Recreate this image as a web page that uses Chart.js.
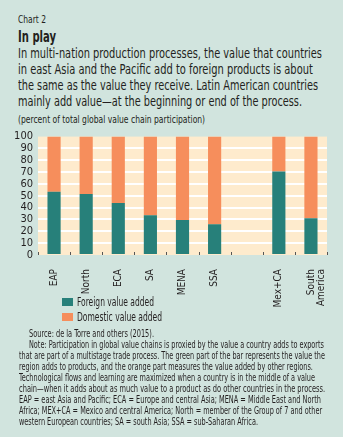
<!DOCTYPE html>
<html>
<head>
<meta charset="utf-8">
<script src="https://cdn.jsdelivr.net/npm/chart.js@4"></script>
<style>
  body { margin: 0; background: #ffffff; }
  #panel {
    position: relative; width: 343px; height: 437px; background: #d1e4de; overflow: hidden;
    font-family: "Liberation Sans Narrow", "DejaVu Sans Condensed", Roboto, sans-serif;
    color: #231f20;
  }
  .ln { position: absolute; left: 18px; white-space: nowrap; transform-origin: 0 0; }
  .k { font-size: 10.5px; }
  .t { font-size: 16px; font-weight: bold; }
  .s { font-size: 14px; }
  .u { font-size: 10.5px; }
  .leg { position: absolute; left: 62px; font-size: 11.5px; white-space: nowrap; }
  .leg span { display: inline-block; width: 11px; height: 8px; margin-right: 4px; vertical-align: 0px; }
  .leg em { font-style: normal; display: inline-block; transform-origin: 0 50%; }
  .n { font-size: 10px; left: 19px; }
  #chartBox { position: absolute; left: 0; top: 125px; width: 340px; height: 195px; }
</style>
</head>
<body>
<div id="panel">
  <div class="ln k" style="top:13px" data-w="28">Chart 2</div>
  <div class="ln t" style="top:27px" data-w="38">In play</div>
  <div class="ln s" style="top:45px" data-w="304">In multi-nation production processes, the value that countries</div>
  <div class="ln s" style="top:61px" data-w="295">in east Asia and the Pacific add to foreign products is about</div>
  <div class="ln s" style="top:77px" data-w="300">the same as the value they receive. Latin American countries</div>
  <div class="ln s" style="top:93px" data-w="284">mainly add value—at the beginning or end of the process.</div>
  <div class="ln u" style="top:113px" data-w="187">(percent of total global value chain participation)</div>
  <div id="chartBox"><canvas id="chart"></canvas></div>
  <div class="leg" style="top:295px"><span style="background:#27807a"></span><em data-w="77">Foreign value added</em></div>
  <div class="leg" style="top:310px"><span style="background:#f68e5c"></span><em data-w="85">Domestic value added</em></div>
  <div class="ln n" style="top:328px;left:29px" data-w="125">Source: de la Torre and others (2015).</div>
  <div class="ln n" style="top:339px;left:29px" data-w="295">Note: Participation in global value chains is proxied by the value a country adds to exports</div>
  <div class="ln n" style="top:350px" data-w="306">that are part of a multistage trade process. The green part of the bar represents the value the</div>
  <div class="ln n" style="top:361px" data-w="294">region adds to products, and the orange part measures the value added by other regions.</div>
  <div class="ln n" style="top:372px" data-w="296">Technological flows and learning are maximized when a country is in the middle of a value</div>
  <div class="ln n" style="top:383px" data-w="306">chain—when it adds about as much value to a product as do other countries in the process.</div>
  <div class="ln n" style="top:394px" data-w="302">EAP = east Asia and Pacific; ECA = Europe and central Asia; MENA = Middle East and North</div>
  <div class="ln n" style="top:405px" data-w="303">Africa; MEX+CA = Mexico and central America; North = member of the Group of 7 and other</div>
  <div class="ln n" style="top:416px" data-w="239">western European countries; SA = south Asia; SSA = sub-Saharan Africa.</div>
</div>
<script>
// regions, with an empty slot between SSA and the Latin American groups
const regions = ['EAP', 'North', 'ECA', 'SA', 'MENA', 'SSA', '', 'Mex+CA', ['South', 'America']];
const foreignValue = [53.5, 51.5, 44, 33.5, 29.5, 26, null, 70.5, 31];
const domesticValue = [46.5, 48.5, 56, 66.5, 70.5, 74, null, 29.5, 69];
const yTicks = [0, 10, 20, 30, 40, 50, 60, 70, 80, 90, 100];

const fontName = '"Liberation Sans Narrow", "DejaVu Sans Condensed", Roboto, sans-serif';

// squeeze each text line to the width it has in the printed chart
document.querySelectorAll('[data-w]').forEach(el => {
  const w = el.getBoundingClientRect().width;
  const target = parseFloat(el.getAttribute('data-w'));
  if (w > 0) el.style.transform = 'scaleX(' + (target / w).toFixed(3) + ')';
});

// peach plot background
const plotBackground = {
  id: 'plotBackground',
  beforeDraw(chart) {
    const a = chart.chartArea;
    const ctx = chart.ctx;
    ctx.save();
    ctx.fillStyle = '#feebcd';
    ctx.fillRect(a.left, a.top, a.right - a.left, a.bottom - a.top);
    ctx.restore();
  }
};

// short tick marks between categories, pointing up into the plot
const innerTicks = {
  id: 'innerTicks',
  afterDatasetsDraw(chart) {
    const x = chart.scales.x;
    const ctx = chart.ctx;
    const bottom = chart.chartArea.bottom;
    ctx.save();
    ctx.strokeStyle = '#555';
    ctx.lineWidth = 1;
    for (let i = 0; i <= regions.length; i++) {
      const px = Math.round(x.getPixelForValue(i - 0.5)) + 0.5;
      ctx.beginPath();
      ctx.moveTo(px, bottom - 3);
      ctx.lineTo(px, bottom);
      ctx.stroke();
    }
    ctx.restore();
  }
};

new Chart(document.getElementById('chart'), {
  type: 'bar',
  data: {
    labels: regions,
    datasets: [{
      label: 'Foreign value added',
      data: foreignValue,
      backgroundColor: '#27807a',
      barPercentage: 0.41,
      categoryPercentage: 1
    }, {
      label: 'Domestic value added',
      data: domesticValue,
      backgroundColor: '#f68e5c',
      barPercentage: 0.41,
      categoryPercentage: 1
    }]
  },
  options: {
    responsive: true,
    maintainAspectRatio: false,
    animation: false,
    layout: { padding: { top: 10, right: 13, left: 0, bottom: 0 } },
    plugins: {
      legend: { display: false },
      tooltip: { enabled: false }
    },
    scales: {
      x: {
        stacked: true,
        grid: { display: false },
        border: { display: false },
        ticks: {
          color: '#231f20',
          font: { family: fontName, size: 10, lineHeight: 1.0 },
          minRotation: 90,
          maxRotation: 90,
          padding: 6,
          autoSkip: false
        },
        afterFit(scale) { scale.height = 65; }
      },
      y: {
        stacked: true,
        min: 0,
        max: 100,
        afterBuildTicks(scale) { scale.ticks = yTicks.map(v => ({ value: v })); },
        grid: {
          color: ctx => (ctx.tick.value === 0 || ctx.tick.value === 100) ? 'rgba(0,0,0,0)' : '#ffffff',
          lineWidth: 2,
          drawTicks: false
        },
        border: { display: false },
        ticks: {
          color: '#231f20',
          font: { family: fontName, size: 11 },
          padding: 5,
          autoSkip: false
        },
        afterFit(scale) { scale.width = 38; }
      }
    }
  },
  plugins: [plotBackground, innerTicks]
});
</script>
</body>
</html>
